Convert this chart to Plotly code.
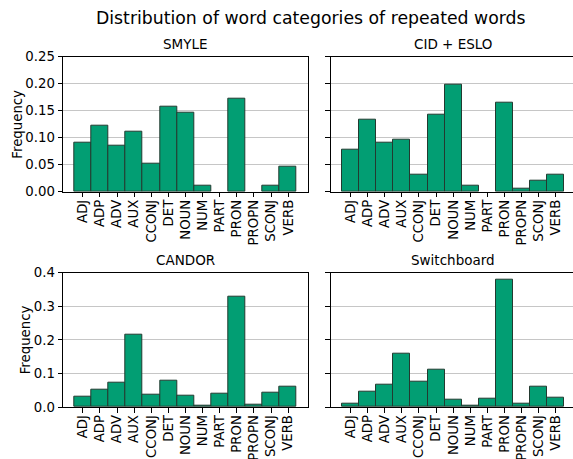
import plotly.graph_objects as go

categories = ["ADJ", "ADP", "ADV", "AUX", "CCONJ", "DET", "NOUN", "NUM", "PART", "PRON", "PROPN", "SCONJ", "VERB"]

smyle = [0.091, 0.122, 0.086, 0.112, 0.051, 0.157, 0.147, 0.011, 0.0, 0.172, 0.0, 0.011, 0.046]
cid_eslo = [0.077, 0.133, 0.091, 0.097, 0.031, 0.143, 0.199, 0.011, 0.0, 0.164, 0.006, 0.021, 0.031]
candor = [0.030, 0.053, 0.073, 0.216, 0.038, 0.077, 0.033, 0.004, 0.041, 0.330, 0.008, 0.042, 0.059]
switchboard = [0.011, 0.047, 0.065, 0.159, 0.076, 0.112, 0.023, 0.005, 0.025, 0.380, 0.011, 0.059, 0.029]

panel_titles = ["SMYLE", "CID + ESLO", "CANDOR", "Switchboard"]
suptitle = "Distribution of word categories of repeated words"
ylabel = "Frequency"

top_ticks = [0.0, 0.05, 0.10, 0.15, 0.20, 0.25]
bottom_ticks = [0.0, 0.1, 0.2, 0.3, 0.4]

W, H = 573, 459
FONT = "DejaVu Sans"
BAR = "#029E73"
EDGE = "#233a30"
GRID = "#c6c6c6"

# pixel geometry of the axes
left_col = (63.3, 307.7)
right_col = (331.0, 575.4)
top_row = (56.7, 191.7)
bot_row = (272.7, 407.0)
xrng = [-1.14, 13.14]

def xdom(col):
    return [col[0] / W, min(col[1] / W, 1.0)]

def ydom(row):
    return [1 - row[1] / H, 1 - row[0] / H]

def right_range(col):
    ppu = (col[1] - col[0]) / (xrng[1] - xrng[0])
    if col[1] > W:
        return [xrng[0], xrng[1] - (col[1] - W) / ppu]
    return xrng

fig = go.Figure()
series = [smyle, cid_eslo, candor, switchboard]
for i, vals in enumerate(series):
    fig.add_trace(go.Bar(
        x=list(range(len(categories))), y=[v if v > 0 else None for v in vals], width=1.0,
        marker=dict(color=BAR, line=dict(color=EDGE, width=1)),
        xaxis="x" if i == 0 else f"x{i+1}",
        yaxis="y" if i == 0 else f"y{i+1}",
        showlegend=False, hoverinfo="skip",
    ))

axfont = dict(family=FONT, size=13.3, color="black")
layout = dict(
    width=W, height=H, margin=dict(l=0, r=0, t=0, b=0),
    paper_bgcolor="white", plot_bgcolor="white",
    font=dict(family=FONT, size=13.3, color="black"),
    bargap=0,
)
geo = [(left_col, top_row, top_ticks, ".2f", [0, 0.25], True),
       (right_col, top_row, top_ticks, ".2f", [0, 0.25], False),
       (left_col, bot_row, bottom_ticks, ".1f", [0, 0.4], True),
       (right_col, bot_row, bottom_ticks, ".1f", [0, 0.4], False)]
for i, (col, row, ticks, fmt, yr, labels) in enumerate(geo):
    xk = "xaxis" if i == 0 else f"xaxis{i+1}"
    yk = "yaxis" if i == 0 else f"yaxis{i+1}"
    ya = "y" if i == 0 else f"y{i+1}"
    xa = "x" if i == 0 else f"x{i+1}"
    layout[xk] = dict(
        domain=xdom(col), range=right_range(col), anchor=ya,
        tickmode="array", tickvals=list(range(len(categories))), ticktext=categories,
        tickangle=-90, ticks="outside", ticklen=4.7, tickwidth=1, tickcolor="black",
        ticklabelstandoff=-3,
        showline=True, linecolor="black", linewidth=1, mirror=True,
        showgrid=False, zeroline=False, automargin=False, tickfont=axfont,
        fixedrange=True,
    )
    layout[yk] = dict(
        domain=ydom(row), range=yr, anchor=xa,
        tickmode="array", tickvals=ticks, tickformat=fmt,
        showticklabels=labels,
        ticks="outside", ticklen=4.7, tickwidth=1, tickcolor="black",
        showline=True, linecolor="black", linewidth=1, mirror=labels,
        showgrid=True, gridcolor=GRID, gridwidth=1, zeroline=False,
        automargin=False, tickfont=axfont, fixedrange=True,
    )

annotations = []
annotations.append(dict(text=suptitle, x=311 / W, y=1 - 30 / H, xref="paper", yref="paper",
                        xanchor="center", yanchor="bottom", showarrow=False,
                        font=dict(family=FONT, size=17.3, color="black")))
for i, (col, row, *_rest) in enumerate(geo):
    cx = (col[0] + col[1]) / 2
    annotations.append(dict(text=panel_titles[i], x=cx / W, y=1 - (row[0] - 3) / H,
                            xref="paper", yref="paper", xanchor="center", yanchor="bottom",
                            showarrow=False, font=dict(family=FONT, size=13.5, color="black")))
annotations.append(dict(text=ylabel, x=17.5 / W, y=1 - (sum(top_row) / 2) / H, xref="paper", yref="paper",
                        xanchor="center", yanchor="middle", textangle=-90, showarrow=False,
                        font=dict(family=FONT, size=13.3, color="black")))
annotations.append(dict(text=ylabel, x=25.5 / W, y=1 - (sum(bot_row) / 2) / H, xref="paper", yref="paper",
                        xanchor="center", yanchor="middle", textangle=-90, showarrow=False,
                        font=dict(family=FONT, size=13.3, color="black")))
layout["annotations"] = annotations
fig.update_layout(**layout)

fig.write_html("out.html", config={"displayModeBar": False})
